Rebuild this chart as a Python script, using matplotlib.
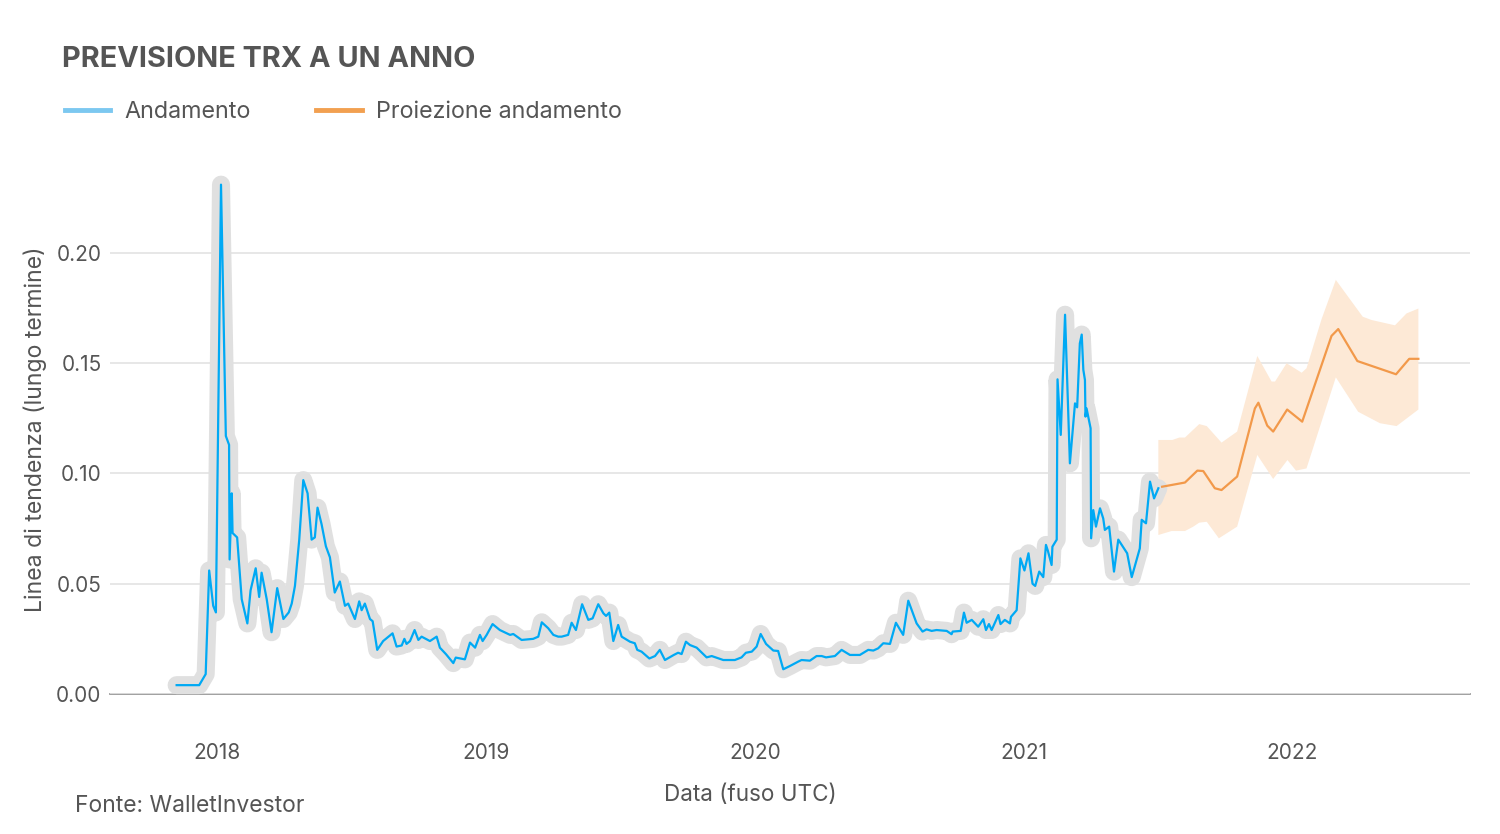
import numpy as np
import matplotlib.pyplot as plt
from matplotlib.lines import Line2D

# andamento storico (anni decimali, valore)
storico_t = [2017.850, 2017.934, 2017.958, 2017.971, 2017.986, 2017.996, 2018.015, 2018.033, 2018.045, 2018.047,
             2018.055, 2018.058, 2018.075, 2018.092, 2018.113, 2018.125, 2018.144, 2018.157, 2018.166, 2018.185,
             2018.203, 2018.224, 2018.247, 2018.267, 2018.278, 2018.290, 2018.306, 2018.321, 2018.337, 2018.352,
             2018.364, 2018.374, 2018.389, 2018.405, 2018.420, 2018.438, 2018.457, 2018.476, 2018.488, 2018.513,
             2018.529, 2018.538, 2018.550, 2018.569, 2018.579, 2018.596, 2018.618, 2018.653, 2018.668, 2018.687,
             2018.697, 2018.705, 2018.718, 2018.735, 2018.749, 2018.761, 2018.792, 2018.817, 2018.829, 2018.852,
             2018.879, 2018.888, 2018.922, 2018.941, 2018.960, 2018.978, 2018.988, 2019.003, 2019.025, 2019.052,
             2019.090, 2019.102, 2019.133, 2019.176, 2019.195, 2019.208, 2019.232, 2019.251, 2019.269, 2019.282,
             2019.306, 2019.319, 2019.335, 2019.358, 2019.381, 2019.397, 2019.418, 2019.437, 2019.447, 2019.459,
             2019.474, 2019.492, 2019.505, 2019.536, 2019.554, 2019.563, 2019.579, 2019.608, 2019.629, 2019.647,
             2019.666, 2019.699, 2019.715, 2019.728, 2019.744, 2019.759, 2019.784, 2019.821, 2019.840, 2019.883,
             2019.926, 2019.951, 2019.967, 2019.989, 2020.007, 2020.022, 2020.042, 2020.069, 2020.087, 2020.106,
             2020.131, 2020.162, 2020.174, 2020.205, 2020.230, 2020.249, 2020.265, 2020.298, 2020.323, 2020.354,
             2020.391, 2020.422, 2020.441, 2020.459, 2020.478, 2020.503, 2020.525, 2020.552, 2020.571, 2020.602,
             2020.624, 2020.639, 2020.658, 2020.676, 2020.714, 2020.732, 2020.736, 2020.766, 2020.778, 2020.788,
             2020.807, 2020.831, 2020.850, 2020.860, 2020.871, 2020.881, 2020.906, 2020.914, 2020.930, 2020.949,
             2020.953, 2020.974, 2020.988, 2021.003, 2021.018, 2021.033, 2021.043, 2021.058, 2021.073, 2021.083,
             2021.090, 2021.104, 2021.107, 2021.123, 2021.126, 2021.138, 2021.154, 2021.172, 2021.191, 2021.199,
             2021.209, 2021.216, 2021.222, 2021.228, 2021.230, 2021.234, 2021.249, 2021.251, 2021.259, 2021.269,
             2021.284, 2021.296, 2021.302, 2021.318, 2021.336, 2021.352, 2021.377, 2021.385, 2021.402, 2021.432,
             2021.439, 2021.455, 2021.470, 2021.485, 2021.501]
storico_v = [0.004, 0.004, 0.009, 0.056, 0.040, 0.037, 0.231, 0.117, 0.113, 0.061,
             0.091, 0.073, 0.071, 0.043, 0.032, 0.047, 0.057, 0.044, 0.055, 0.043,
             0.028, 0.048, 0.034, 0.037, 0.041, 0.049, 0.070, 0.097, 0.091, 0.070,
             0.071, 0.0845, 0.077, 0.067, 0.062, 0.046, 0.051, 0.040, 0.041, 0.034,
             0.042, 0.038, 0.041, 0.034, 0.033, 0.020, 0.024, 0.0275, 0.0215, 0.022,
             0.025, 0.0227, 0.024, 0.029, 0.0245, 0.026, 0.024, 0.026, 0.021, 0.018,
             0.014, 0.0165, 0.0157, 0.0233, 0.021, 0.0268, 0.024, 0.0268, 0.0317, 0.029,
             0.0268, 0.0272, 0.0245, 0.025, 0.026, 0.0325, 0.0298, 0.0268, 0.026, 0.026,
             0.0268, 0.0323, 0.029, 0.0407, 0.0336, 0.0343, 0.0407, 0.0366, 0.0354, 0.0369,
             0.024, 0.0313, 0.026, 0.0237, 0.023, 0.020, 0.0192, 0.0161, 0.0172, 0.020,
             0.0154, 0.0177, 0.0187, 0.0181, 0.0237, 0.0222, 0.021, 0.0166, 0.0172, 0.0154,
             0.0154, 0.0166, 0.0187, 0.0192, 0.0215, 0.0272, 0.0227, 0.0197, 0.0195, 0.0112,
             0.0127, 0.0147, 0.0154, 0.0151, 0.0172, 0.0172, 0.0166, 0.0172, 0.020, 0.0177,
             0.0177, 0.020, 0.0197, 0.0207, 0.023, 0.0227, 0.0323, 0.0268, 0.0423, 0.032,
             0.0283, 0.0293, 0.0286, 0.029, 0.0286, 0.0271, 0.0283, 0.0286, 0.0369, 0.0323,
             0.0336, 0.0305, 0.0339, 0.029, 0.0317, 0.029, 0.0358, 0.0317, 0.0336, 0.032,
             0.035, 0.038, 0.0615, 0.056, 0.0638, 0.050, 0.049, 0.0555, 0.053, 0.0676,
             0.065, 0.0585, 0.0668, 0.070, 0.1427, 0.1175, 0.172, 0.1046, 0.1318, 0.130,
             0.159, 0.163, 0.147, 0.1424, 0.1258, 0.1295, 0.1205, 0.0706, 0.0834, 0.0759,
             0.0842, 0.0796, 0.0744, 0.0759, 0.0555, 0.070, 0.0653, 0.0638, 0.053, 0.066,
             0.079, 0.0774, 0.0963, 0.0887, 0.0933]

# proiezione
proiez_t = [2021.515, 2021.600, 2021.646, 2021.668, 2021.711, 2021.736, 2021.794, 2021.860, 2021.873, 2021.906,
            2021.928, 2021.980, 2022.036, 2022.145, 2022.170, 2022.241, 2022.385, 2022.434, 2022.468]
proiez_v = [0.094, 0.0959, 0.1013, 0.1011, 0.0933, 0.0925, 0.0986, 0.1295, 0.1321, 0.1217,
            0.119, 0.129, 0.1235, 0.1624, 0.1655, 0.151, 0.145, 0.152, 0.152]

# banda di confidenza
sup_t = [2021.501, 2021.553, 2021.579, 2021.600, 2021.653, 2021.681, 2021.736, 2021.794, 2021.869, 2021.922,
         2021.935, 2021.978, 2022.034, 2022.052, 2022.108, 2022.161, 2022.261, 2022.294, 2022.381, 2022.424, 2022.468]
sup_v = [0.1152, 0.1152, 0.1163, 0.1163, 0.1224, 0.1215, 0.114, 0.119, 0.1533, 0.1417,
         0.1417, 0.150, 0.1457, 0.1477, 0.170, 0.1878, 0.1711, 0.1696, 0.1672, 0.1726, 0.1748]
inf_t = [2021.501, 2021.550, 2021.600, 2021.631, 2021.653, 2021.681, 2021.726, 2021.794, 2021.869, 2021.928,
         2021.981, 2022.013, 2022.052, 2022.161, 2022.244, 2022.325, 2022.387, 2022.468]
inf_v = [0.0721, 0.0739, 0.0739, 0.0759, 0.0777, 0.0781, 0.0706, 0.0759, 0.1084, 0.0975,
         0.1061, 0.1013, 0.1023, 0.1436, 0.128, 0.1228, 0.1215, 0.129]

anni = [2018, 2019, 2020, 2021, 2022]
yticks = [0.00, 0.05, 0.10, 0.15, 0.20]

plt.rcParams['font.family'] = ['Inter', 'DejaVu Sans']
grigio = '#555555'

fig = plt.figure(figsize=(15, 8.34), dpi=100)
ax = fig.add_axes([0.0733, 0.1679, 0.9067, 0.6345])

# banda
poly_t = np.concatenate([sup_t, inf_t[::-1]])
poly_v = np.concatenate([sup_v, inf_v[::-1]])
ax.fill(poly_t, poly_v, color='#fde9d6', lw=0, zorder=1)

# alone grigio + linea
ax.plot(storico_t, storico_v, color='#e0e0e0', lw=13, solid_capstyle='round',
        solid_joinstyle='round', zorder=2, clip_on=False)
ax.plot(storico_t, storico_v, color='#00a9f4', lw=1.6, zorder=3, clip_on=False)
ax.plot(proiez_t, proiez_v, color='#f2994a', lw=1.6, zorder=3)

ax.set_xlim(2017.602, 2022.660)
ax.set_ylim(0, 0.24)
ax.set_xticks(anni)
ax.set_xticklabels([str(a) for a in anni])
ax.set_yticks(yticks)
ax.set_yticklabels(['%.2f' % v for v in yticks])
ax.tick_params(axis='x', length=0, pad=35, labelsize=15, labelcolor=grigio)
ax.tick_params(axis='y', length=0, pad=6, labelsize=15, labelcolor=grigio)
ax.grid(axis='y', color='#e3e3e3', lw=1.2)
ax.set_axisbelow(True)
for s in ['top', 'right', 'left']:
    ax.spines[s].set_visible(False)
ax.spines['bottom'].set_color('#999999')
ax.spines['bottom'].set_linewidth(1.3)
ax.spines['bottom'].set_zorder(0.5)

ax.set_xlabel('Data (fuso UTC)', fontsize=16.2, color=grigio)
ax.xaxis.set_label_coords(0.471, -0.171)
ax.set_ylabel('Linea di tendenza (lungo termine)', fontsize=16.6, color=grigio)
ax.yaxis.set_label_coords(-0.046, 0.5)

fig.text(0.041, 0.929, 'PREVISIONE TRX A UN ANNO', fontsize=20.8, fontweight='bold',
         color=grigio, va='center')

handles = [Line2D([], [], color='#7cc8f0', lw=3.5),
           Line2D([], [], color='#f2a050', lw=3.5)]
fig.legend(handles, ['Andamento', 'Proiezione andamento'], loc='center left',
           bbox_to_anchor=(0.029, 0.866), ncol=2, frameon=False, fontsize=16.8,
           handlelength=1.95, handletextpad=0.62, columnspacing=2.8, labelcolor=grigio)

fig.text(0.05, 0.033, 'Fonte: WalletInvestor', fontsize=16.5, color=grigio, va='center')

fig.savefig('out.png', dpi=100)
